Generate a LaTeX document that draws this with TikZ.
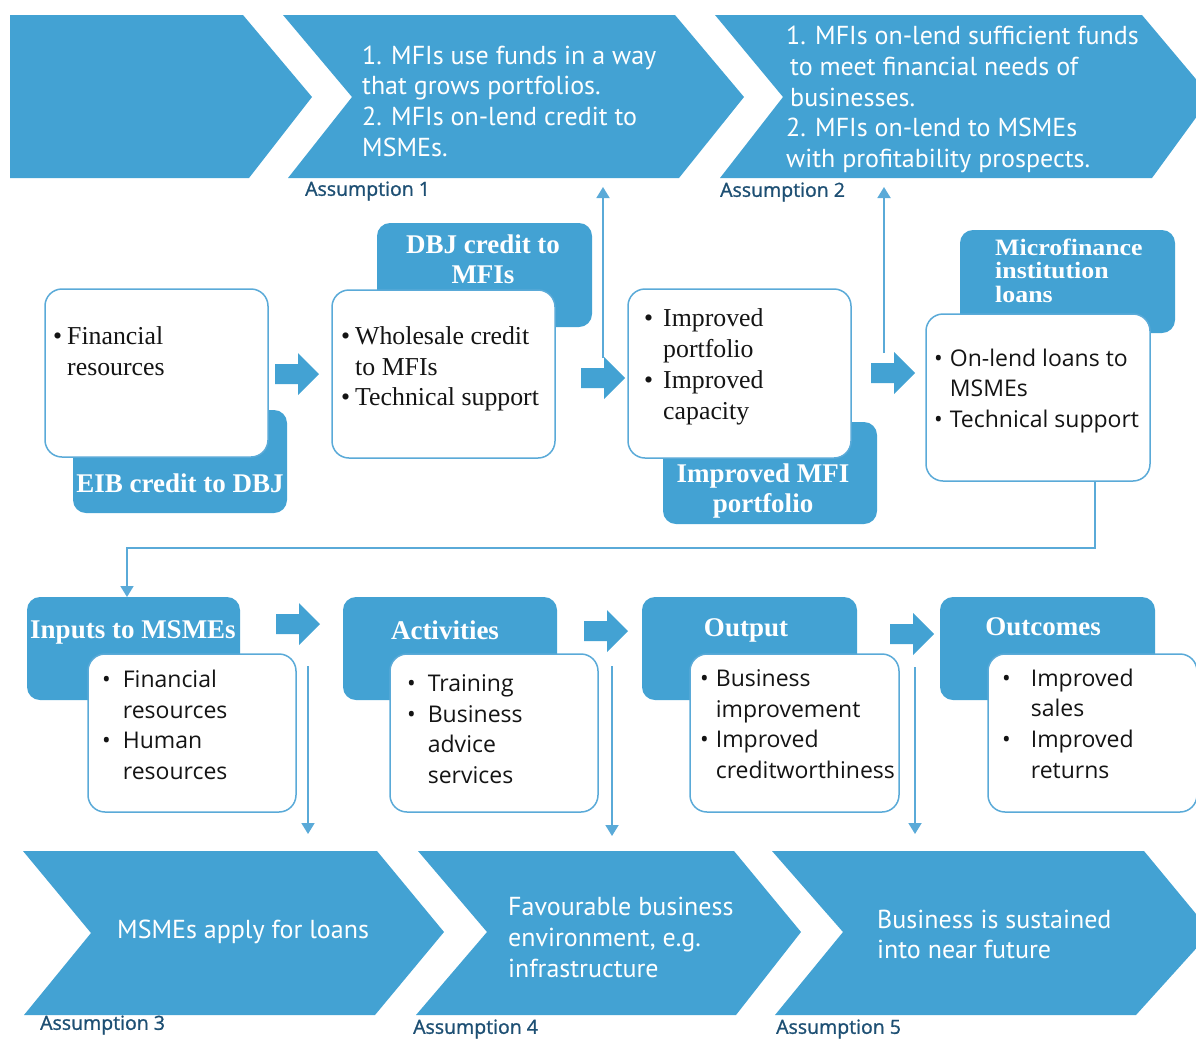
\documentclass[tikz,border=0pt]{standalone}
\usepackage{fontspec}
\setmainfont{Liberation Serif}
\newfontfamily\boxsans{Open Sans}
\newfontfamily\chevsans{PT Sans}
\newfontfamily\labelsans[FakeBold=1.2]{Open Sans}
\newfontfamily\widebold[FakeStretch=1.1]{Liberation Serif Bold}
\usetikzlibrary{arrows.meta}
\definecolor{flowblue}{HTML}{43A2D3}
\definecolor{edgeblue}{HTML}{5AAAD8}
\definecolor{labelblue}{HTML}{1D4F73}
\definecolor{inkblack}{HTML}{141414}

% block arrow: left x, centre y
\newcommand{\blockarrow}[2]{%
  \fill[flowblue] (#1,#2-10) -- (#1+23,#2-10) -- (#1+23,#2-21) -- (#1+44,#2)
    -- (#1+23,#2+21) -- (#1+23,#2+10) -- (#1,#2+10) -- cycle;}

\begin{document}
\begin{tikzpicture}[x=1pt,y=-1pt,
  chevron/.style={fill=flowblue},
  tab/.style={fill=flowblue, rounded corners=13pt, inner sep=0pt, outer sep=0pt, anchor=north west},
  card/.style={fill=white, draw=edgeblue, line width=1.5pt, rounded corners=17pt, inner sep=0pt, outer sep=0pt, anchor=north west},
  chevtext/.style={text=white, font=\chevsans\fontsize{26}{30.6}\selectfont, align=left, anchor=west, inner sep=0pt},
  asslabel/.style={text=labelblue, font=\labelsans\fontsize{19.5}{22}\selectfont, anchor=west, inner sep=0pt},
  tabtext/.style={text=white, font=\bfseries\fontsize{27}{30}\selectfont, align=center, inner sep=0pt},
  tabline/.style={text=white, font=\widebold\fontsize{23.5}{23.5}\selectfont, anchor=west, inner sep=0pt},
  serifitems/.style={text=inkblack, font=\fontsize{25.8}{30.8}\selectfont, anchor=west, inner sep=0pt},
  sansitems/.style={text=inkblack, font=\boxsans\fontsize{23}{30.6}\selectfont, anchor=west, inner sep=0pt},
  thin/.style={draw=edgeblue, line width=1.8pt},
  thinarrow/.style={thin, -{Triangle[width=13pt,length=11pt]}}
]
\useasboundingbox (0,0) rectangle (1196,1039);
\begin{scope}
\clip (0,0) rectangle (1196,1039);

% ---------- upper chevrons ----------
\fill[chevron] (10,15) -- (243,15) -- (312,97) -- (249,178) -- (10,178) -- cycle;
\fill[chevron] (283,15) -- (675,15) -- (744,97) -- (679,178) -- (288,178) -- (352,97) -- cycle;
\fill[chevron] (715,15) -- (1142,15) -- (1211,97) -- (1152,178) -- (720,178) -- (783,97) -- cycle;

\node[chevtext] (a1text) at (362,101) {1. MFIs use funds in a way\\that grows portfolios.\\2. MFIs on-lend credit to\\MSMEs.};
\node[chevtext] (a2text) at (786,99.5) {1. MFIs on-lend sufficient funds\\\hspace*{4pt}to meet financial needs of\\\hspace*{4pt}businesses.\\2. MFIs on-lend to MSMEs\\with profitability prospects.};
\node[asslabel] (a1) at (305,191) {Assumption 1};
\node[asslabel] (a2) at (720,192) {Assumption 2};

% ---------- lower chevrons ----------
\fill[chevron] (23,851) -- (377,851) -- (444,932) -- (375,1015) -- (24,1015) -- (91,933) -- cycle;
\fill[chevron] (418,851) -- (734,851) -- (801,932) -- (736,1015) -- (416,1015) -- (487,932) -- cycle;
\fill[chevron] (772,851) -- (1144,851) -- (1211,932) -- (1136,1015) -- (775,1015) -- (843,932) -- cycle;

\node[chevtext] (a3text) at (117,932) {MSMEs apply for loans};
\node[chevtext] (a4text) at (508,937.5) {Favourable business\\environment, e.g.\\infrastructure};
\node[chevtext] (a5text) at (877,934.5) {Business is sustained\\into near future};
\node[asslabel] (a3) at (40,1025) {Assumption 3};
\node[asslabel] (a4) at (413,1029) {Assumption 4};
\node[asslabel] (a5) at (776,1029) {Assumption 5};

% ---------- middle row: DBJ / MFI chain ----------
\node[tab, minimum width=214pt, minimum height=103pt] (eibtab) at (73,410) {};
\node[card, minimum width=223pt, minimum height=168pt] (boxA) at (45,289) {};
\node[tabtext] (eib) at (180,483) {EIB credit to DBJ};
\node[serifitems] (boxAtext) at (53,353.5) {\begin{tabular}{@{}l@{\hspace{5pt}}l@{}}\textbullet & Financial\\ & resources\end{tabular}};

\node[tab, minimum width=215pt, minimum height=104pt] (dbjtab) at (377,223) {};
\node[card, minimum width=223pt, minimum height=168pt] (boxB) at (332,290) {};
\node[tabtext] (dbj) at (483,259) {DBJ credit to\\MFIs};
\node[serifitems] (boxBtext) at (341,369) {\begin{tabular}{@{}l@{\hspace{5pt}}l@{}}\textbullet & Wholesale credit\\ & to MFIs\\ \textbullet & Technical support\end{tabular}};

\node[tab, minimum width=214pt, minimum height=102pt] (mfitab) at (663,422) {};
\node[card, minimum width=223pt, minimum height=169pt] (boxC) at (628,289) {};
\node[tabtext] (mfi) at (763,491) {Improved MFI\\portfolio};
\node[serifitems] (boxCtext) at (644,367) {\begin{tabular}{@{}l@{\hspace{10pt}}l@{}}\textbullet & Improved\\ & portfolio\\ \textbullet & Improved\\ & capacity\end{tabular}};

\node[tab, minimum width=215pt, minimum height=103pt] (loantab) at (960,230) {};
\node[card, minimum width=224pt, minimum height=167pt] (boxD) at (926,314) {};
\node[tabline] (loan1) at (995,247) {Microfinance};
\node[tabline] (loan2) at (995,270.5) {institution};
\node[tabline] (loan3) at (995,294) {loans};
\node[sansitems] (boxDtext) at (934,390.5) {\begin{tabular}{@{}l@{\hspace{7pt}}l@{}}\textbullet & On-lend loans to\\ & MSMEs\\ \textbullet & Technical support\end{tabular}};

\blockarrow{275}{374}
\blockarrow{581}{378}
\blockarrow{871}{373}

% ---------- lower row: MSME results chain ----------
\node[tab, minimum width=213pt, minimum height=103pt] (intab) at (27,597) {};
\node[card, minimum width=208pt, minimum height=158pt] (boxE) at (88,654) {};
\node[tabtext] (inputs) at (133,632) {Inputs to MSMEs};
\node[sansitems] (boxEtext) at (102,727.5) {\begin{tabular}{@{}l@{\hspace{12pt}}l@{}}\textbullet & Financial\\ & resources\\ \textbullet & Human\\ & resources\end{tabular}};

\node[tab, minimum width=214pt, minimum height=103pt] (acttab) at (343,597) {};
\node[card, minimum width=208pt, minimum height=158pt] (boxF) at (390,654) {};
\node[tabtext] (activities) at (445,630) {Activities};
\node[sansitems] (boxFtext) at (407,731.5) {\begin{tabular}{@{}l@{\hspace{12pt}}l@{}}\textbullet & Training\\ \textbullet & Business\\ & advice\\ & services\end{tabular}};

\node[tab, minimum width=215pt, minimum height=103pt] (outtab) at (642,597) {};
\node[card, minimum width=209pt, minimum height=158pt] (boxG) at (690,654) {};
\node[tabtext] (output) at (746,630) {Output};
\node[sansitems] (boxGtext) at (700,726.5) {\begin{tabular}{@{}l@{\hspace{7pt}}l@{}}\textbullet & Business\\ & improvement\\ \textbullet & Improved\\ & creditworthiness\end{tabular}};

\node[tab, minimum width=215pt, minimum height=103pt] (octab) at (940,597) {};
\node[card, minimum width=209pt, minimum height=158pt] (boxH) at (988,654) {};
\node[tabtext] (outcomes) at (1043,627) {Outcomes};
\node[sansitems] (boxHtext) at (1002,726) {\begin{tabular}{@{}l@{\hspace{20pt}}l@{}}\textbullet & Improved\\ & sales\\ \textbullet & Improved\\ & returns\end{tabular}};

\blockarrow{276}{624}
\blockarrow{584}{631}
\blockarrow{890}{634}

% ---------- thin connectors ----------
\coordinate (up1from) at (603,358);
\coordinate (up1to) at (603,187);
\coordinate (up2from) at (884,353);
\coordinate (up2to) at (884,187);
\draw[thinarrow] (up1from) -- (up1to);
\draw[thinarrow] (up2from) -- (up2to);

\coordinate (turn1) at (boxD.south -| 1095,0);
\coordinate (turn2) at (1095,548);
\coordinate (turn3) at (127,548);
\draw[thinarrow] (turn1) -- (turn2) -- (turn3) -- (intab.north -| turn3);

\coordinate (dn1from) at (308,666);
\coordinate (dn1to) at (308,834);
\coordinate (dn2from) at (612,666);
\coordinate (dn2to) at (612,836);
\coordinate (dn3from) at (915,667);
\coordinate (dn3to) at (915,834);
\draw[thinarrow] (dn1from) -- (dn1to);
\draw[thinarrow] (dn2from) -- (dn2to);
\draw[thinarrow] (dn3from) -- (dn3to);
\end{scope}
\end{tikzpicture}
\end{document}
